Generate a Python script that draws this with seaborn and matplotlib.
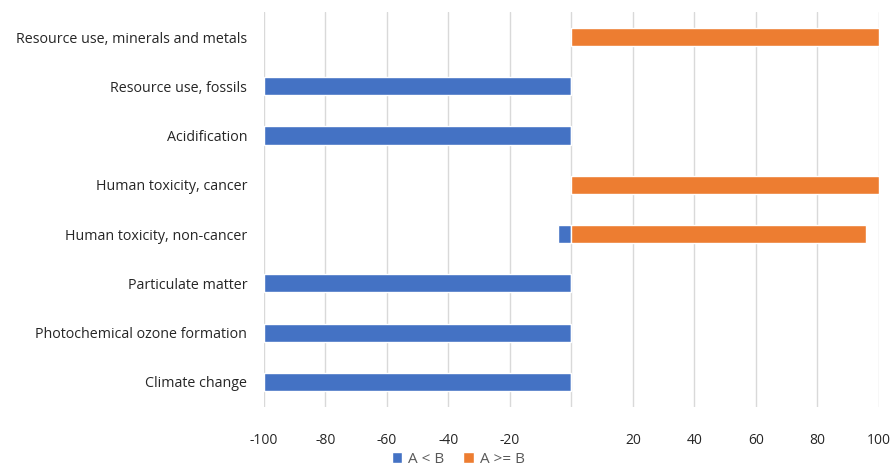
import matplotlib
matplotlib.use("Agg")
import matplotlib.pyplot as plt
import seaborn as sns
import pandas as pd

categories = ["Resource use, minerals and metals", "Resource use, fossils", "Acidification",
              "Human toxicity, cancer", "Human toxicity, non-cancer", "Particulate matter",
              "Photochemical ozone formation", "Climate change"]
a_less_b = [0, -100, -100, 0, -4.5, -100, -100, -100]
a_geq_b = [100, 0, 0, 100, 95.8, 0, 0, 0]
xticks = [-100, -80, -60, -40, -20, 0, 20, 40, 60, 80, 100]
xticklabels = ["-100", "-80", "-60", "-40", "-20", "", "20", "40", "60", "80", "100"]

df = pd.concat([
    pd.DataFrame({"cat": categories, "val": a_less_b, "series": "A < B"}),
    pd.DataFrame({"cat": categories, "val": a_geq_b, "series": "A >= B"}),
])

sns.set_style("white")
plt.rcParams["font.family"] = ["Open Sans", "DejaVu Sans"]

fig = plt.figure(figsize=(8.93, 4.70), dpi=100)
ax = fig.add_axes([0.2956, 0.135, 0.6887, 0.8386])
sns.barplot(data=df, y="cat", x="val", hue="series", dodge=False, orient="h",
            palette=["#4472C4", "#ED7D31"], saturation=1, width=0.37, ax=ax, legend=True)

ax.set_xlim(-100, 100)
ax.set_xticks(xticks)
ax.set_xticklabels(xticklabels, fontsize=10, color="#262626")
ax.grid(axis="x", color="#D9D9D9", linewidth=1)
ax.set_axisbelow(True)
for s in ax.spines.values():
    s.set_visible(False)
ax.tick_params(axis="x", length=0, pad=19)
ax.tick_params(axis="y", length=0, pad=12, labelsize=10.3, labelcolor="#262626")
ax.set_xlabel("")
ax.set_ylabel("")

handles, labels = ax.get_legend_handles_labels()
ax.legend_.remove()
fig.legend(handles, labels, loc="center", bbox_to_anchor=(0.513, 0.022), ncol=2,
           frameon=False, fontsize=11, handlelength=0.7, handleheight=0.7,
           handletextpad=0.4, columnspacing=1.2, labelcolor="#595959",
           borderpad=0, borderaxespad=0)

fig.savefig("out.png", dpi=100)
